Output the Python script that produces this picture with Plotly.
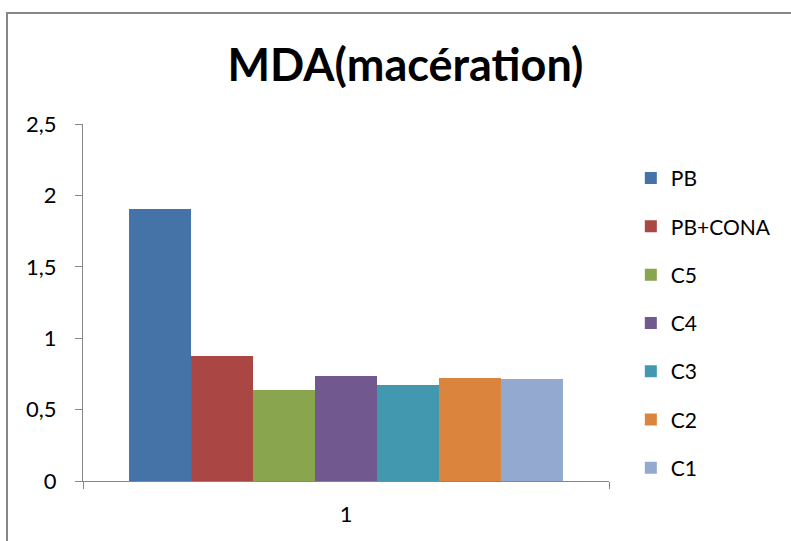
import plotly.graph_objects as go

categories = ["1"]
series_names = ["PB", "PB+CONA", "C5", "C4", "C3", "C2", "C1"]
series_values = [1.905, 0.875, 0.637, 0.735, 0.672, 0.721, 0.714]
series_colors = ["#4572A7", "#AA4643", "#89A54E", "#71588F", "#4198AF", "#DB843D", "#93A9CF"]
y_tickvals = [0, 0.5, 1, 1.5, 2, 2.5]
y_ticktext = ["0", "0,5", "1", "1,5", "2", "2,5"]

FONT = "Lato, 'Open Sans', sans-serif"
AX = "#868686"

fig = go.Figure()
for i, (name, val, col) in enumerate(zip(series_names, series_values, series_colors)):
    fig.add_trace(go.Bar(x=categories, y=[val], name=name, marker_color=col,
                         marker_line_width=0, legendgroup=f"g{i}"))

fig.update_layout(
    width=791, height=541,
    margin=dict(l=83, r=182, t=124, b=60),
    paper_bgcolor="white", plot_bgcolor="white",
    barmode="group", bargap=0.175, bargroupgap=0,
    title=dict(text="<b>MDA(macération)</b>", x=(228 + 583) / 2 / 791, xanchor="center",
               y=1 - 65 / 541, yanchor="middle",
               font=dict(family=FONT, size=45, color="black")),
    font=dict(family=FONT, color="black"),
    legend=dict(x=1.0415, xanchor="left", y=0.905, yanchor="top",
                traceorder="grouped", tracegroupgap=18,
                font=dict(family=FONT, size=21, color="black"),
                bgcolor="rgba(0,0,0,0)"),
    xaxis=dict(type="category", range=[-0.5, 0.5], showline=True, linecolor=AX, linewidth=1,
               ticks="outside", tickson="boundaries", ticklen=7, tickcolor=AX,
               tickfont=dict(family=FONT, size=22, color="black"),
               ticklabelstandoff=14, showgrid=False, zeroline=False),
    yaxis=dict(range=[0, 2.5], tickvals=y_tickvals, ticktext=y_ticktext,
               showline=True, linecolor=AX, linewidth=1,
               ticks="outside", ticklen=7, tickcolor=AX,
               tickfont=dict(family=FONT, size=22, color="black"),
               ticklabelstandoff=14, showgrid=False, zeroline=False),
    shapes=[dict(type="rect", xref="paper", yref="paper",
                 x0=(7 - 83) / 526, x1=(820 - 83) / 526,
                 y0=(481 - 580) / 357, y1=(481 - 13) / 357,
                 line=dict(color=AX, width=2), fillcolor="rgba(0,0,0,0)", layer="below")],
)

fig.write_html("out.html")
